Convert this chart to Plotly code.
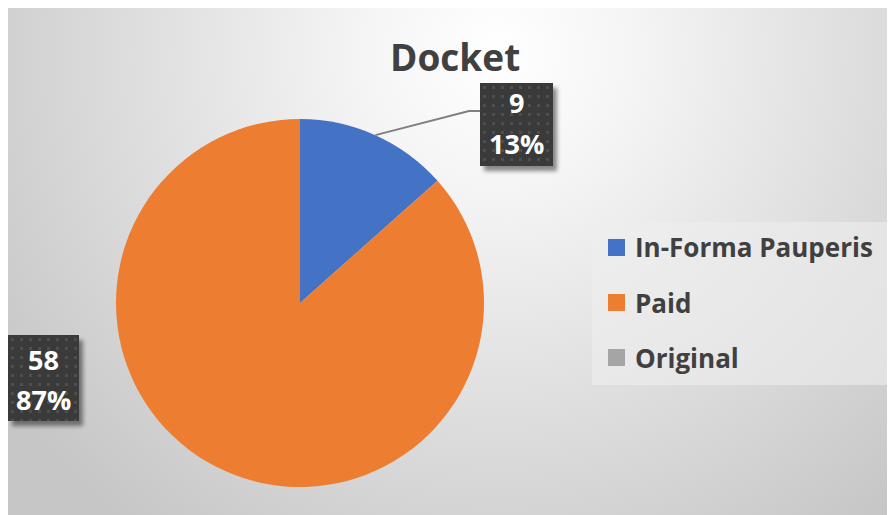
import base64, math
import plotly.graph_objects as go

# ---- data ----
labels = ["In-Forma Pauperis", "Paid", "Original"]
values = [9, 58, 0]
colors = ["#4472C4", "#ED7D31", "#A5A5A5"]
title_text = "Docket"

W, H = 895, 515
OFF = 8  # page body margin
def px(x): return (x - OFF) / W
def py(y): return 1 - (y - OFF) / H

# pie geometry (screen pixels)
CX, CY, R = 300, 303, 184

def svg_uri(svg):
    return "data:image/svg+xml;base64," + base64.b64encode(svg.encode()).decode()

bg_svg = f'''<svg xmlns="http://www.w3.org/2000/svg" width="{W}" height="{H}" viewBox="0 0 {W} {H}">
<defs><radialGradient id="g" gradientUnits="userSpaceOnUse" cx="490" cy="45" r="600">
<stop offset="0" stop-color="#ffffff"/><stop offset="0.22" stop-color="#f5f5f5"/>
<stop offset="1" stop-color="#c6c6c6"/></radialGradient></defs>
<rect x="0" y="0" width="{W}" height="{H}" fill="url(#g)"/></svg>'''

def box_svg(w, h):
    return f'''<svg xmlns="http://www.w3.org/2000/svg" width="{w+10}" height="{h+10}" viewBox="0 0 {w+10} {h+10}">
<defs><filter id="b" x="-20%" y="-20%" width="140%" height="140%"><feGaussianBlur stdDeviation="2.2"/></filter>
<pattern id="p" width="9" height="9" patternUnits="userSpaceOnUse">
<rect width="9" height="9" fill="#3a3a3a"/><rect x="3" y="3" width="3" height="3" fill="#4e4e4e"/></pattern></defs>
<rect x="4" y="5" width="{w}" height="{h}" fill="rgba(0,0,0,0.45)" filter="url(#b)"/>
<rect x="0" y="0" width="{w}" height="{h}" fill="url(#p)"/></svg>'''

fig = go.Figure(go.Pie(
    labels=labels, values=values, sort=False, direction="clockwise", rotation=0,
    marker=dict(colors=colors, line=dict(width=0)),
    textinfo="none", showlegend=False,
    domain=dict(x=[px(CX - R), px(CX + R)], y=[py(CY + R), py(CY - R)]),
))

images = [dict(source=svg_uri(bg_svg), xref="paper", yref="paper",
               x=0, y=1, sizex=1, sizey=1,
               sizing="stretch", layer="below", xanchor="left", yanchor="top")]
annotations = [dict(text=f"<b>{title_text}</b>", x=px(455), y=py(57), xref="paper", yref="paper",
                    xanchor="center", yanchor="middle", showarrow=False,
                    font=dict(family="Open Sans", size=37, color="#404040"))]
shapes = []

total = sum(values)
# label boxes: (left, top, width, height, value-line y, pct-line y)
box_pos = {0: (480, 83, 73, 83, 102, 144), 1: (8, 335, 71, 86, 359, 399)}
for i, (l, t, w, h, yv, yp) in box_pos.items():
    images.append(dict(source=svg_uri(box_svg(w, h)), xref="paper", yref="paper",
                       x=px(l), y=py(t), sizex=(w + 10) / W, sizey=(h + 10) / H,
                       sizing="stretch", layer="above", xanchor="left", yanchor="top"))
    pct = round(100 * values[i] / total)
    for txt, yy in ((str(values[i]), yv), (f"{pct}%", yp)):
        annotations.append(dict(text=f"<b>{txt}</b>", x=px(l + w / 2), y=py(yy),
                                xref="paper", yref="paper", xanchor="center", yanchor="middle",
                                showarrow=False,
                                font=dict(family="Open Sans", size=27, color="white")))

# leader line for first slice, from its mid angle
mid = 2 * math.pi * (values[0] / 2) / total
sx, sy = CX + R * math.sin(mid), CY - R * math.cos(mid)
shapes.append(dict(type="path", xref="paper", yref="paper",
                   path=f"M{px(sx)},{py(sy)} L{px(469)},{py(111)} L{px(480)},{py(111)}",
                   line=dict(color="#7f7f7f", width=2)))

# custom legend
shapes.append(dict(type="rect", xref="paper", yref="paper", x0=px(592), x1=px(890),
                   y0=py(385), y1=py(222), fillcolor="rgba(238,238,238,0.6)", line=dict(width=0),
                   layer="below"))
for i, (lab, col) in enumerate(zip(labels, colors)):
    yc = 247.5 + 55 * i
    shapes.append(dict(type="rect", xref="paper", yref="paper", x0=px(608), x1=px(625),
                       y0=py(yc + 8.5), y1=py(yc - 8.5), fillcolor=col, line=dict(width=0)))
    annotations.append(dict(text=f"<b>{lab}</b>", x=px(633), y=py(yc), xref="paper", yref="paper",
                            xanchor="left", yanchor="middle", showarrow=False,
                            font=dict(family="Open Sans", size=26, color="#404040")))

fig.update_layout(width=W, height=H, margin=dict(l=0, r=0, t=0, b=0),
                  paper_bgcolor="white", plot_bgcolor="rgba(0,0,0,0)",
                  images=images, annotations=annotations, shapes=shapes)
fig.write_html("out.html")
